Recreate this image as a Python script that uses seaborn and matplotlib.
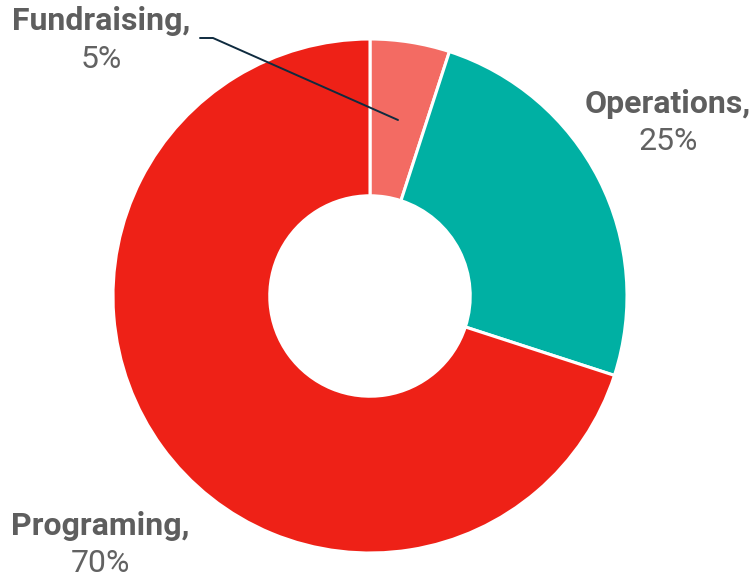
import numpy as np
import matplotlib
matplotlib.use("Agg")
import matplotlib.pyplot as plt
import seaborn as sns

# 数据
categories = ["Fundraising", "Operations", "Programing"]
shares = [5, 25, 70]
colors = ["#F36B63", "#00B0A3", "#EE2117"]

sns.set_theme(style="white")
plt.rcParams['font.family'] = ['Roboto', 'DejaVu Sans']

W, H = 755, 585
fig = plt.figure(figsize=(W / 100, H / 100), dpi=100)

# 圆环位置（像素）
cx, cy, r = 370, 296, 257
ax = fig.add_axes([(cx - r) / W, (H - cy - r) / H, 2 * r / W, 2 * r / H])
ax.pie(shares, colors=colors, startangle=90, counterclock=False,
       radius=1, wedgeprops=dict(width=0.61, edgecolor="white", linewidth=2.2))
ax.set_xlim(-1, 1)
ax.set_ylim(-1, 1)
ax.axis("off")

def px(x, y):
    return x / W, 1 - y / H

# 标签
label_pos = {"Fundraising": (101, 21), "Operations": (668, 104), "Programing": (100, 526)}
for name, val in zip(categories, shares):
    x, y = label_pos[name]
    fig.text(*px(x, y), name + ",", ha="center", va="center", fontsize=23,
             fontweight="bold", color="#5e5e5e")
    fig.text(*px(x, y + 38), f"{val}%", ha="center", va="center", fontsize=23,
             color="#626262")

# 引线
line_x = [200, 213, 398]
line_y = [38, 38, 120]
fig.add_artist(plt.Line2D([v / W for v in line_x], [1 - v / H for v in line_y],
                          color="#0f2b3f", linewidth=1.4, transform=fig.transFigure))

fig.savefig("out.png", dpi=100, facecolor="white")
